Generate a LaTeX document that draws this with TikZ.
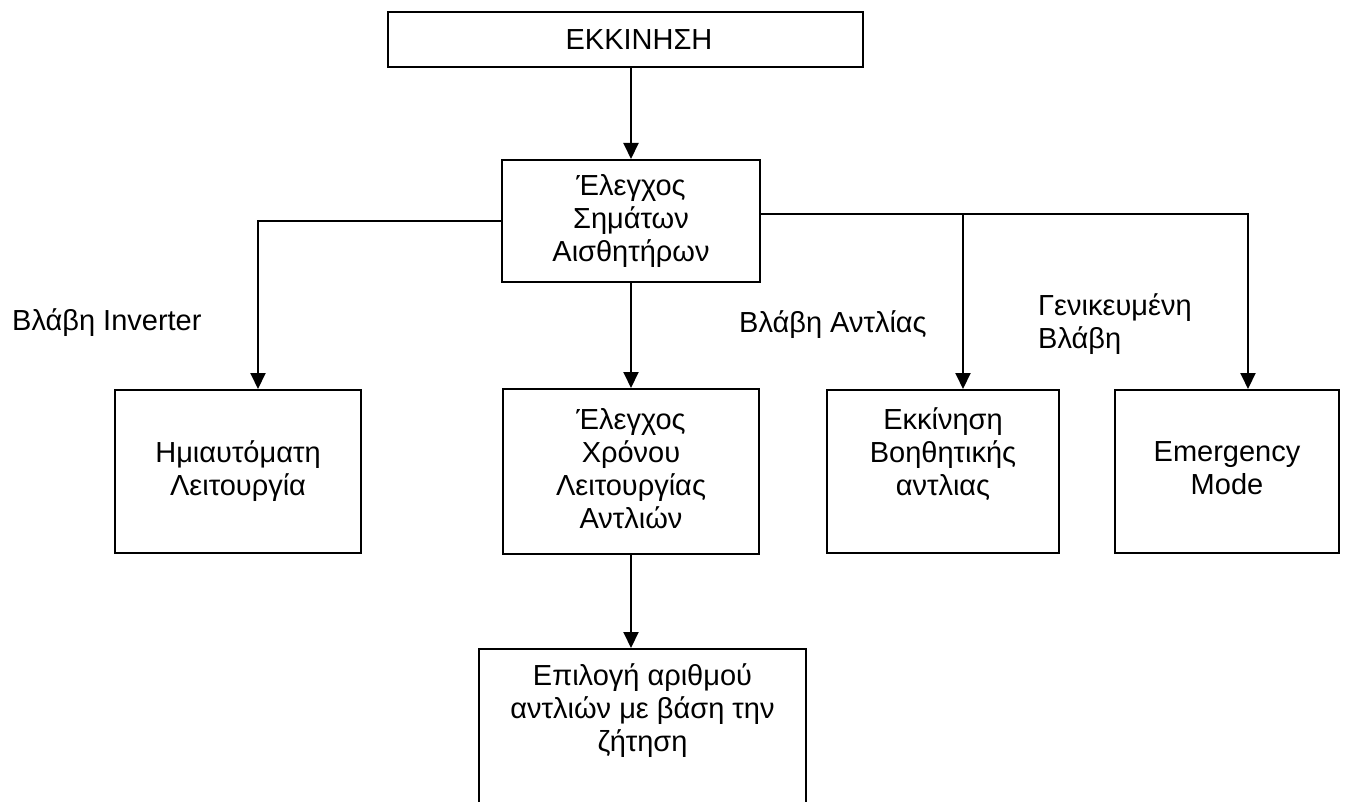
\documentclass[tikz,border=0pt]{standalone}
\usepackage{fontspec}
\setmainfont{Liberation Sans}
\usetikzlibrary{arrows.meta}
\newcommand{\wstrut}{\rule[-6pt]{0pt}{33pt}}

\begin{document}
\begin{tikzpicture}[x=1pt,y=-1pt,
    box/.style={draw,line width=2pt,align=center,inner sep=0pt,font=\fontsize{29}{33}\selectfont,
        execute at begin node=\wstrut,execute at end node=\wstrut},
    lbl/.style={inner sep=0pt,align=left,font=\fontsize{29}{33}\selectfont},
    arr/.style={line width=2pt,-{Triangle[width=15pt,length=16pt]}}]
    \useasboundingbox (0,0) rectangle (1362,802);
    \node[box,minimum width=475pt,minimum height=55pt] (start) at (625,39.5) {\hspace*{28pt}ΕΚΚΙΝΗΣΗ};
    \node[box,minimum width=258pt,minimum height=122pt] (check) at (631,221) {Έλεγχος\\Σημάτων\\Αισθητήρων};
    \node[box,minimum width=246pt,minimum height=163pt] (hand) at (238,471.5) {Ημιαυτόματη\\Λειτουργία};
    \node[box,minimum width=256pt,minimum height=165pt] (timer) at (631,471.5) {Έλεγχος\\Χρόνου\\Λειτουργίας\\Αντλιών};
    \node[box,minimum width=232pt,minimum height=163pt] (aux) at (943,471.5) {Εκκίνηση\\Βοηθητικής\\αντλιας\\\mbox{}};
    \node[box,minimum width=224pt,minimum height=163pt] (emerg) at (1227,471.5) {Emergency\\Mode};
    \node[box,minimum width=327pt,anchor=north,inner ysep=15pt,text depth=80pt] (select) at (642.5,648) {Επιλογή αριθμού\\αντλιών με βάση την\\ζήτηση};
    \node[lbl,anchor=base west] (finv) at (12,330) {Βλάβη Inverter};
    \node[lbl,anchor=base west] (fpump) at (739,332) {Βλάβη Αντλίας};
    \node[lbl,anchor=north west,execute at begin node=\wstrut] (fgen) at (1038,293) {Γενικευμένη\\Βλάβη};
    \draw[arr] (start.south -| check.north) -- (check.north);
    \draw[arr] (check.south) -- (timer.north);
    \draw[arr] (timer.south) -- (timer.south |- select.north);
    \draw[arr] (check.west) -| ([xshift=20pt]hand.north);
    \coordinate (split) at ([yshift=7pt]check.east);
    \draw[arr] (split) -| ([xshift=20pt]aux.north);
    \draw[arr] (split) -| ([xshift=21pt]emerg.north);
\end{tikzpicture}
\end{document}
